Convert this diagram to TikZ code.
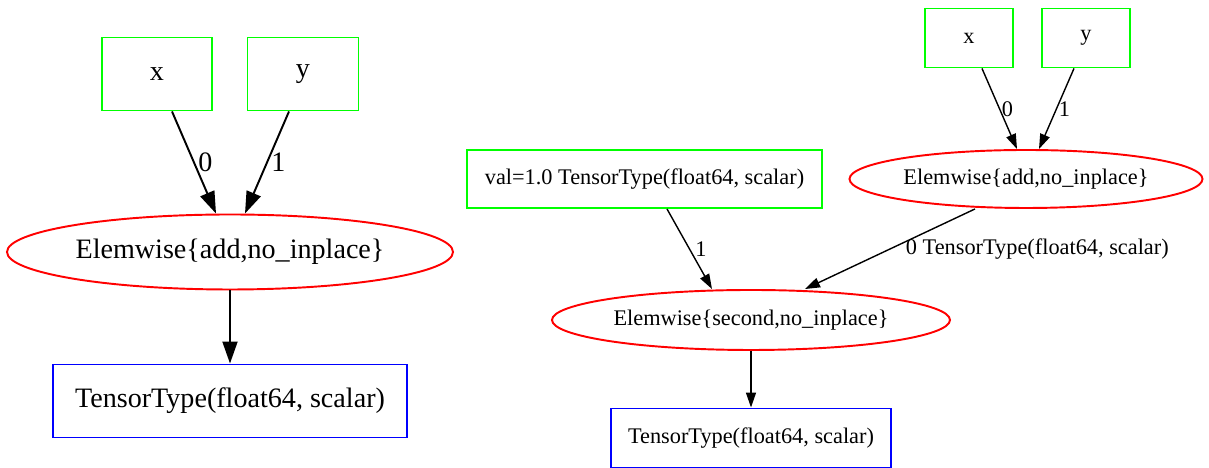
\documentclass[tikz,border=0pt]{standalone}
\usepackage{fontspec}
\setmainfont{Liberation Serif}
\usetikzlibrary{shapes.geometric}
\usetikzlibrary{arrows.meta}

\begin{document}
\begin{tikzpicture}[
    input/.style={rectangle, draw=green, line width=1.1pt, inner sep=0pt},
    apply/.style={ellipse, draw=red, line width=1.1pt, inner sep=0pt},
    output/.style={rectangle, draw=blue, line width=1.1pt, inner sep=0pt},
    big/.style={font=\fontsize{16}{19}\selectfont},
    small/.style={font=\fontsize{12.7}{15}\selectfont},
    bigarrow/.style={-{Triangle[length=0.44cm, width=0.3cm]}, line width=1.1pt},
    smallarrow/.style={-{Triangle[length=0.3cm, width=0.2cm]}, line width=0.8pt}
]
    \useasboundingbox (0,0) rectangle (24.18,9.36);

    % Graph before the rewrite
    \node[input, big, minimum width=2.2cm, minimum height=1.46cm] (x1) at (3.14,7.88) {x};
    \node[input, big, minimum width=2.22cm, minimum height=1.46cm] (y1) at (6.06,7.88) {y};
    \node[apply, big, minimum width=8.92cm, minimum height=1.5cm] (add1) at (4.60,4.32) {Elemwise\{add,no\_inplace\}};
    \node[output, big, minimum width=7.08cm, minimum height=1.46cm] (out1) at (4.60,1.34) {TensorType(float64, scalar)};

    \draw[bigarrow] ([xshift=0.30cm]x1.south) -- node[right, big, inner sep=2pt] {0} ([xshift=-0.28cm]add1.north);
    \draw[bigarrow] ([xshift=-0.28cm]y1.south) -- node[right, big, inner sep=2pt] {1} ([xshift=0.30cm]add1.north);
    \draw[bigarrow] (add1) -- (out1);

    % Graph after the rewrite
    \node[input, small, minimum width=7.10cm, minimum height=1.16cm] (val) at (12.89,5.78) {val=1.0 TensorType(float64, scalar)};
    \node[input, small, minimum width=1.76cm, minimum height=1.18cm] (x2) at (19.38,8.60) {x};
    \node[input, small, minimum width=1.76cm, minimum height=1.18cm] (y2) at (21.72,8.60) {y};
    \node[apply, small, minimum width=7.06cm, minimum height=1.16cm] (add2) at (20.52,5.78) {Elemwise\{add,no\_inplace\}};
    \node[apply, small, minimum width=7.96cm, minimum height=1.2cm] (second) at (15.02,2.96) {Elemwise\{second,no\_inplace\}};
    \node[output, small, minimum width=5.6cm, minimum height=1.18cm] (out2) at (15.02,0.60) {TensorType(float64, scalar)};

    \draw[smallarrow] ([xshift=0.26cm]x2.south) -- node[right, small, inner sep=1pt] {0} ([xshift=-0.18cm]add2.north);
    \draw[smallarrow] ([xshift=-0.24cm]y2.south) -- node[right, small, inner sep=1pt] {1} ([xshift=0.26cm]add2.north);
    \draw[smallarrow] ([xshift=0.45cm]val.south) -- node[right, small, inner sep=3pt] {1} ([xshift=-0.78cm]second.north);
    \draw[smallarrow] ([xshift=-1.02cm]add2.south) -- node[right, small, inner sep=3pt, xshift=0.2cm] {0 TensorType(float64, scalar)} ([xshift=1.08cm]second.north);
    \draw[smallarrow] (second) -- (out2);
\end{tikzpicture}
\end{document}
